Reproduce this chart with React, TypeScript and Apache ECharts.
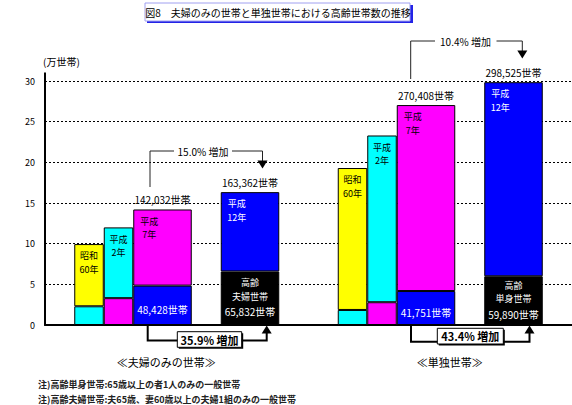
import React, { useEffect, useRef } from 'react';
import * as echarts from 'echarts';

const FONT = '"Noto Sans CJK JP", "Noto Sans", sans-serif';

// categories & periods
const categories = ['夫婦のみの世帯', '単独世帯'];
const periodLabels = ['昭和\n60年', '平成\n2年', '平成\n7年', '平成\n12年'];
const elderlyTypes = ['夫婦世帯', '単身世帯'];

// 万世帯
const totalS60 = [9.95, 19.3];
const elderlyS60 = [2.3, 1.85];
const totalH2 = [12.0, 23.3];
const elderlyH2 = [3.3, 2.8];
// 世帯 (labelled)
const totalH7 = [142032, 270408];
const elderlyH7 = [48428, 41751];
const totalH12 = [163362, 298525];
const elderlyH12 = [65832, 59890];

const yMin = 0;
const yMax = 30;
const yInterval = 5;
const yUnit = '(万世帯)';

const title = '図8　夫婦のみの世帯と単独世帯における高齢世帯数の推移';
const notes = [
  '注)高齢単身世帯:65歳以上の者1人のみの一般世帯',
  '注)高齢夫婦世帯:夫65歳、妻60歳以上の夫婦1組のみの一般世帯',
];

const periodColors = ['#ffff00', '#00ffff', '#ff00ff', '#0000ff'];
const elderlyColors = ['#00ffff', '#ff00ff', '#0000ff', '#000000'];

const toMan = (v: number) => v / 10000;
const fmt = (v: number) => v.toLocaleString('en-US') + '世帯';
const pct = (a: number, b: number) => ((b / a - 1) * 100).toFixed(1) + '% 増加';

function buildSeries() {
  const totals = [totalS60, totalH2, totalH7.map(toMan), totalH12.map(toMan)];
  const elders = [elderlyS60, elderlyH2, elderlyH7.map(toMan), elderlyH12.map(toMan)];
  const widths = [29.5, 29.5, 58.5, 58.5];
  const series: any[] = [];
  const border = { borderColor: '#000', borderWidth: 1 };
  for (let p = 0; p < 4; p++) {
    const stack = 'p' + p;
    const wide = p >= 2;
    // inner (elderly) part
    series.push({
      type: 'bar',
      stack,
      barWidth: widths[p],
      barGap: 0,
      data: elders[p],
      itemStyle: { color: elderlyColors[p], ...border },
      label: p === 2
        ? {
            show: true,
            position: 'inside',
            offset: [0, 4],
            color: '#fff',
            fontSize: 10,
            fontFamily: FONT,
            formatter: (d: any) => fmt(elderlyH7[d.dataIndex]),
          }
        : p === 3
        ? {
            show: true,
            position: 'inside',
            offset: [0, 0],
            color: '#fff',
            fontFamily: FONT,
            formatter: (d: any) =>
              '{a|高齢}\n{a|' + elderlyTypes[d.dataIndex] + '}\n{b|' + fmt(elderlyH12[d.dataIndex]) + '}',
            rich: {
              a: { color: '#fff', fontSize: 9, lineHeight: 13.5, fontFamily: FONT },
              b: { color: '#fff', fontSize: 10, lineHeight: 17, fontFamily: FONT },
            },
          }
        : { show: false },
    });
    // remaining (total - elderly) part
    series.push({
      type: 'bar',
      stack,
      barWidth: widths[p],
      barGap: 0,
      data: totals[p].map((t, i) => +(t - elders[p][i]).toFixed(4)),
      itemStyle: { color: periodColors[p], ...border },
      label: {
        show: true,
        position: wide ? [16, 5] : 'insideTop',
        distance: 5,
        align: 'center',
        verticalAlign: 'top',
        color: p === 3 ? '#fff' : '#000',
        fontSize: 9,
        lineHeight: 13.5,
        fontFamily: FONT,
        formatter: () => periodLabels[p],
      },
    });
    if (wide) {
      const src = p === 2 ? totalH7 : totalH12;
      series.push({
        type: 'bar',
        stack,
        barWidth: widths[p],
        barGap: 0,
        silent: true,
        data: [0, 0],
        itemStyle: { color: 'transparent', borderWidth: 0 },
        label: {
          show: true,
          position: 'top',
          distance: 5,
          color: '#000',
          fontSize: 10,
          fontFamily: FONT,
          formatter: (d: any) => fmt(src[d.dataIndex]),
        },
      });
    }
    if (p === 2) {
      // spacer between 平成7年 and 平成12年
      series.push({
        type: 'bar',
        stack: 'gap',
        barWidth: 29,
        barGap: 0,
        silent: true,
        data: [0, 0],
        itemStyle: { color: 'transparent', borderWidth: 0 },
        label: { show: false },
      });
    }
  }
  return series;
}

function buildGraphic() {
  const thin = { stroke: '#222', lineWidth: 1, fill: null };
  const thick = { stroke: '#000', lineWidth: 2, fill: null };
  const txt = (x: number, y: number, text: string, font: string, align = 'center', fill = '#000') => ({
    type: 'text',
    x,
    y,
    z: 110,
    style: { text, fill, font, align, verticalAlign: 'middle' },
  });
  const tri = (x: number, tipY: number, dir: number) => ({
    type: 'polygon',
    z: 110,
    shape: {
      points: [
        [x - 5, tipY - dir * 8],
        [x + 5, tipY - dir * 8],
        [x, tipY],
      ],
    },
    style: { fill: '#000' },
  });
  const box = (x: number, y: number, w: number, h: number) => [
    { type: 'rect', z: 108, shape: { x: x + 1.5, y: y + 1.5, width: w, height: h }, style: { fill: '#000' } },
    { type: 'rect', z: 109, shape: { x, y, width: w, height: h }, style: { fill: '#fff', stroke: '#000', lineWidth: 1 } },
  ];
  const g: any[] = [
    // title
    { type: 'rect', z: 100, shape: { x: 147, y: 5, width: 266, height: 18 }, style: { fill: '#2323e6' } },
    { type: 'rect', z: 101, shape: { x: 145, y: 3, width: 265, height: 18 }, style: { fill: '#fff', stroke: '#a0a0f0', lineWidth: 1 } },
    txt(278, 12.5, title, `10px ${FONT}`),
    // unit
    txt(43, 61, yUnit, `10px ${FONT}`, 'left'),
    // axis extension above 30
    { type: 'line', z: 100, shape: { x1: 45, y1: 72.5, x2: 45, y2: 82 }, style: { stroke: '#000', lineWidth: 2 } },
    // upper bracket left
    { type: 'polyline', z: 110, shape: { points: [[150, 187], [150, 151], [174, 151]] }, style: thin },
    txt(203, 151, pct(totalH7[0], totalH12[0]), `10px ${FONT}`),
    { type: 'polyline', z: 110, shape: { points: [[232, 151], [262.5, 151], [262.5, 161]] }, style: thin },
    tri(262.5, 168.5, 1),
    // upper bracket right
    { type: 'polyline', z: 110, shape: { points: [[410.7, 79], [410.7, 41], [435, 41]] }, style: thin },
    txt(465.5, 41, pct(totalH7[1], totalH12[1]), `10px ${FONT}`),
    { type: 'polyline', z: 110, shape: { points: [[496.5, 41], [522.3, 41], [522.3, 51]] }, style: thin },
    tri(522.3, 58.5, 1),
    // lower bracket left
    { type: 'polyline', z: 110, shape: { points: [[147.7, 326], [147.7, 340.5], [177.3, 340.5]] }, style: thick },
    ...box(177.3, 331.7, 64.4, 15.6),
    txt(209.5, 339.7, pct(elderlyH7[0], elderlyH12[0]), `bold 11px ${FONT}`),
    { type: 'polyline', z: 110, shape: { points: [[241.7, 340.5], [266.7, 340.5], [266.7, 332]] }, style: thick },
    tri(266.7, 325.5, -1),
    // lower bracket right
    { type: 'polyline', z: 110, shape: { points: [[411, 326], [411, 341.7], [437.3, 341.7]] }, style: thick },
    ...box(437.3, 328.3, 66, 15.7),
    txt(470.3, 336.3, pct(elderlyH7[1], elderlyH12[1]), `bold 11px ${FONT}`),
    { type: 'polyline', z: 110, shape: { points: [[503.3, 341.7], [529.5, 341.7], [529.5, 332]] }, style: thick },
    tri(529.5, 325.5, -1),
    // notes
    txt(38, 384, notes[0], `bold 9px ${FONT}`, 'left', '#222'),
    txt(38, 399, notes[1], `bold 9px ${FONT}`, 'left', '#222'),
  ];
  return g;
}

export default function App() {
  const ref = useRef<HTMLDivElement>(null);
  useEffect(() => {
    if (!ref.current) return;
    const chart = echarts.init(ref.current, undefined, { renderer: 'svg' });
    chart.setOption({
      animation: false,
      backgroundColor: '#fff',
      textStyle: { fontFamily: FONT },
      grid: { left: 45, right: 0, top: 81, bottom: 80, containLabel: false },
      xAxis: {
        type: 'category',
        data: categories,
        axisTick: { show: false },
        axisLine: { show: true, lineStyle: { color: '#000', width: 2 } },
        axisLabel: {
          margin: 31,
          color: '#000',
          fontSize: 11,
          fontFamily: FONT,
          formatter: (v: string, i: number) => (i === 0 ? '{l|≪' + v + '≫}' : '{r|≪' + v + '≫}'),
          rich: {
            l: { fontSize: 11, fontFamily: FONT, color: '#000', padding: [0, 21, 0, 0] },
            r: { fontSize: 11, fontFamily: FONT, color: '#000', padding: [0, 0, 0, 19] },
          },
        },
        splitLine: { show: false },
      },
      yAxis: {
        type: 'value',
        min: yMin,
        max: yMax,
        interval: yInterval,
        axisLine: { show: true, lineStyle: { color: '#000', width: 2 } },
        axisTick: { show: false },
        axisLabel: { color: '#000', fontSize: 9, margin: 10, fontFamily: FONT },
        splitLine: { show: true, lineStyle: { color: '#000', width: 1, type: [2, 2] } },
      },
      series: buildSeries(),
      graphic: buildGraphic(),
    });
    return () => chart.dispose();
  }, []);
  return (
    <div
      ref={ref}
      style={{ position: 'fixed', left: 0, top: 0, width: 572, height: 405, background: '#fff' }}
    />
  );
}
